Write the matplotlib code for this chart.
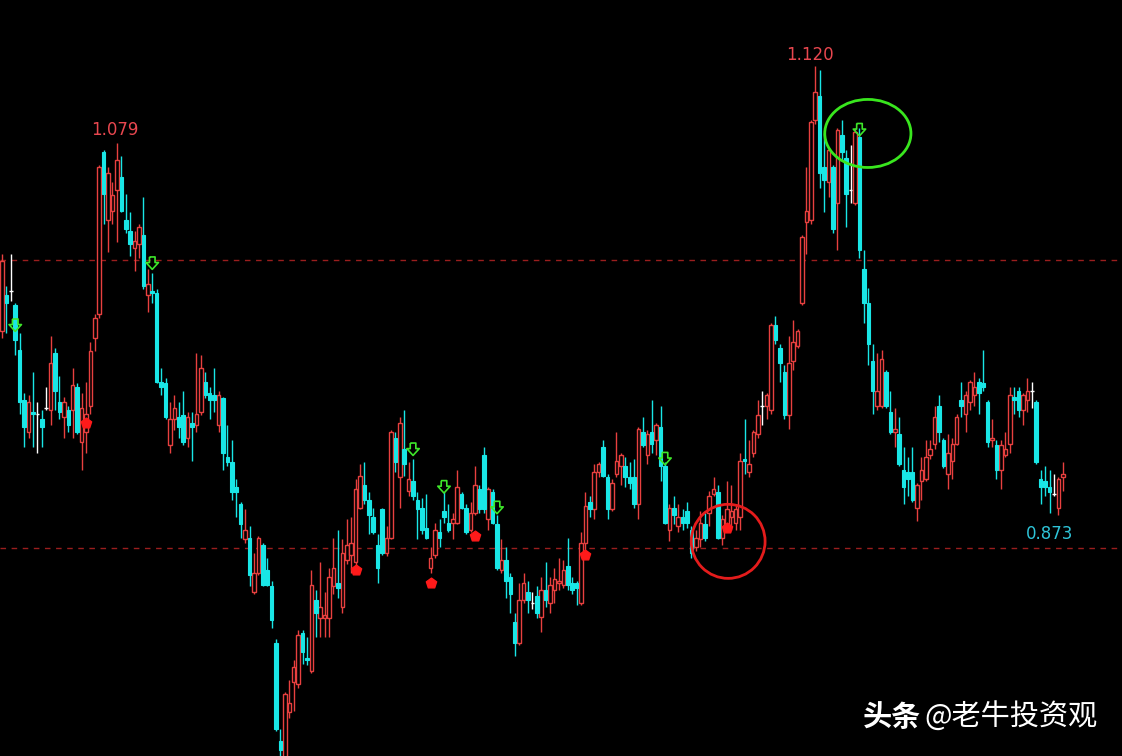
import numpy as np
import matplotlib
matplotlib.use('Agg')
from matplotlib import pyplot as plt
from matplotlib.patches import Ellipse
from matplotlib.path import Path

# candle data (one entry per bar, left to right)
opens = [
    .979, .998, 1.000, .993, .969, .942, .925, .936, .935, .932,
    .938, .937, .967, .941, .933, .937, .937, .949, .920, .925,
    .939, .975, .988, 1.074, 1.038, 1.043, 1.054, 1.061, 1.038, 1.032,
    1.023, 1.025, 1.030, .998, 1.000, .999, .952, .951, .918, .932,
    .933, .934, .922, .930, .929, .936, .952, .946, .945, .929,
    .943, .912, .909, .896, .887, .868, .869, .840, .850, .865,
    .852, .843, .813, .761, .748, .776, .792, .791, .818, .805,
    .798, .836, .826, .826, .826, .843, .845, .832, .857, .860,
    .856, .885, .897, .889, .880, .865, .884, .861, .869, .922,
    .901, .916, .894, .899, .889, .885, .874, .853, .860, .872,
    .883, .877, .877, .877, .892, .885, .873, .882, .895, .913,
    .879, .893, .876, .852, .857, .848, .824, .813, .836, .840,
    .834, .838, .827, .841, .834, .841, .845, .844, .854, .845,
    .845, .834, .866, .888, .884, .904, .917, .901, .884, .903,
    .907, .907, .901, .901, .887, .925, .913, .925, .921, .928,
    .907, .873, .885, .875, .880, .883, .873, .864, .868, .876,
    .882, .892, .893, .869, .875, .880, .877, .880, .911, .904,
    .914, .924, .939, .939, .937, .982, .970, .957, .934, .963,
    .971, .994, 1.037, 1.038, 1.091, 1.104, 1.066, 1.058, 1.066, 1.047,
    1.083, 1.071, 1.054, 1.047, 1.082, 1.012, .994, .963, .939, .939,
    .957, .936, .925, .924, .905, .904, .904, .885, .899, .900,
    .913, .919, .939, .921, .903, .910, .919, .942, .935, .941,
    .945, .952, .951, .941, .921, .918, .905, .913, .919, .944,
    .947, .937, .942, .947, .941, .900, .899, .896, .892, .885,
    .901]
highs = [
    1.020, 1.003, 1.020, .994, .978, .946, .945, .957, .941, .937,
    .949, .976, .970, .955, .944, .939, .959, .951, .946, .952,
    .973, .988, 1.067, 1.075, 1.066, 1.058, 1.079, 1.072, 1.052, 1.042,
    1.032, 1.036, 1.050, 1.012, 1.010, 1.001, .959, .954, .941, .945,
    .941, .947, .936, .936, .967, .966, .957, .949, .959, .947,
    .944, .929, .921, .900, .888, .884, .875, .861, .870, .866,
    .858, .846, .815, .767, .787, .793, .804, .820, .820, .816,
    .852, .841, .856, .840, .853, .869, .873, .868, .879, .880,
    .900, .908, .909, .893, .885, .871, .885, .875, .926, .925,
    .933, .937, .909, .911, .893, .890, .892, .864, .877, .879,
    .893, .887, .882, .905, .893, .887, .888, .907, .897, .917,
    .896, .895, .881, .868, .864, .850, .829, .845, .850, .846,
    .840, .843, .848, .856, .848, .853, .858, .857, .869, .848,
    .846, .872, .893, .891, .908, .909, .921, .903, .900, .925,
    .914, .912, .909, .911, .928, .933, .926, .942, .930, .939,
    .909, .887, .891, .887, .884, .888, .875, .873, .883, .882,
    .894, .901, .897, .881, .899, .897, .887, .914, .932, .921,
    .926, .942, .947, .946, .983, .987, .972, .961, .976, .985,
    .980, 1.030, 1.066, 1.091, 1.120, 1.118, 1.084, 1.076, 1.067, 1.087,
    1.091, 1.075, 1.078, 1.087, 1.087, 1.022, 1.002, .972, .967, .969,
    .958, .947, .938, .933, .917, .912, .917, .898, .912, .921,
    .921, .939, .945, .922, .924, .922, .935, .952, .947, .953,
    .957, .954, .969, .942, .932, .921, .921, .925, .949, .949,
    .949, .946, .954, .952, .942, .905, .907, .905, .903, .901,
    .909]
lows = [
    .975, .978, .995, .966, .935, .917, .922, .917, .914, .917,
    .937, .929, .937, .932, .922, .925, .922, .924, .905, .914,
    .935, .968, .986, 1.036, 1.021, 1.036, 1.026, 1.042, 1.031, 1.019,
    1.011, 1.018, 1.001, .989, .994, .951, .945, .932, .914, .926,
    .922, .918, .917, .910, .925, .934, .943, .932, .936, .925,
    .905, .907, .889, .880, .869, .866, .843, .839, .849, .843,
    .843, .821, .766, .751, .746, .773, .777, .789, .802, .801,
    .797, .816, .816, .816, .816, .839, .837, .829, .855, .850,
    .853, .884, .887, .871, .871, .845, .860, .859, .868, .904,
    .885, .902, .891, .889, .868, .871, .868, .850, .858, .864,
    .877, .872, .868, .876, .884, .871, .872, .881, .882, .882,
    .873, .876, .852, .850, .837, .829, .806, .812, .834, .829,
    .831, .826, .819, .832, .829, .834, .841, .842, .841, .839,
    .833, .833, .861, .880, .879, .901, .901, .879, .883, .901,
    .897, .896, .895, .885, .879, .917, .908, .914, .913, .899,
    .876, .867, .876, .872, .873, .874, .858, .862, .864, .867,
    .875, .891, .868, .865, .873, .873, .873, .873, .903, .901,
    .912, .922, .929, .932, .935, .972, .952, .932, .927, .958,
    .970, .993, 1.020, 1.036, 1.089, 1.055, 1.042, 1.050, 1.031, 1.022,
    1.070, 1.034, 1.047, 1.046, 1.018, .983, .961, .935, .937, .938,
    .938, .924, .917, .907, .887, .891, .888, .878, .889, .899,
    .911, .916, .920, .906, .895, .900, .918, .933, .925, .937,
    .939, .935, .947, .917, .917, .900, .895, .912, .914, .935,
    .933, .929, .936, .938, .908, .887, .891, .882, .891, .881,
    .894]
closes = [
    1.016, .994, 1.000, .974, .941, .928, .941, .935, .935, .928,
    .938, .962, .947, .936, .941, .929, .950, .925, .938, .935,
    .968, .986, 1.066, 1.052, 1.063, 1.051, 1.070, 1.043, 1.033, 1.025,
    1.027, 1.034, 1.003, 1.004, .999, .952, .949, .933, .932, .938,
    .928, .920, .933, .928, .935, .959, .945, .942, .942, .945,
    .914, .909, .893, .893, .876, .873, .849, .850, .869, .844,
    .844, .825, .767, .756, .786, .781, .800, .817, .808, .804,
    .844, .829, .832, .828, .848, .853, .842, .861, .865, .866,
    .895, .902, .889, .881, .872, .853, .861, .869, .925, .909,
    .930, .908, .900, .891, .884, .873, .869, .858, .873, .869,
    .880, .873, .879, .896, .885, .872, .882, .897, .884, .884,
    .895, .877, .853, .857, .846, .839, .813, .836, .845, .836,
    .834, .829, .841, .836, .844, .847, .846, .852, .844, .841,
    .842, .866, .886, .884, .904, .908, .902, .884, .898, .910,
    .913, .901, .898, .887, .927, .918, .924, .919, .929, .907,
    .877, .885, .881, .880, .877, .877, .861, .869, .877, .869,
    .891, .895, .869, .879, .884, .883, .884, .910, .910, .908,
    .925, .934, .939, .945, .982, .974, .962, .934, .962, .973,
    .979, 1.029, 1.043, 1.090, 1.106, 1.063, 1.059, 1.075, 1.033, 1.086,
    1.074, 1.052, 1.054, 1.085, 1.022, .994, .972, .947, .947, .964,
    .939, .925, .927, .908, .896, .900, .889, .897, .905, .912,
    .916, .933, .925, .907, .914, .919, .933, .939, .945, .952,
    .949, .946, .949, .920, .922, .905, .918, .916, .945, .942,
    .937, .945, .947, .947, .909, .896, .896, .893, .892, .900,
    .903]

# signal arrows (bar index, price)
sell_idx = [3, 34, 93, 100, 112, 150, 194]
sell_px = [.982, 1.015, .916, .896, .885, .911, 1.086]
buy_idx = [19, 80, 97, 107, 132, 164]
buy_px = [.930, .852, .845, .870, .860, .874]

level_lines = [1.0167, 0.8635]
hi_left, hi_right, last_px = '1.079', '1.120', '0.873'

RED = '#e8403f'
CYAN = '#19e6e6'

o = np.array(opens); h = np.array(highs); l = np.array(lows); c = np.array(closes)
x = np.arange(len(o))

fig = plt.figure(figsize=(11.22, 7.56), dpi=100, facecolor='black')
ax = fig.add_axes([0, 0, 1, 1])
ax.set_facecolor('black')
ax.set_xlim(-0.45, 253.4)
ax.set_ylim(0.7528, 1.155)
ax.axis('off')

for y in level_lines:
    ax.axhline(y, color='#9a1e1e', lw=1, linestyle=(0, (4, 4)), zorder=1)

up = c > o
dn = c < o
dj = c == o
wick_col = np.where(up, RED, np.where(dn, CYAN, 'white'))
ax.vlines(x, l, h, colors=list(wick_col), lw=1, zorder=2)

w = 0.8
ax.bar(x[up], (c - o)[up], bottom=o[up], width=w, facecolor='black',
       edgecolor=RED, linewidth=1, zorder=3)
ax.bar(x[dn], (c - o)[dn], bottom=o[dn], width=w, color=CYAN,
       edgecolor=CYAN, linewidth=0.8, zorder=3)
ax.hlines(o[dj], x[dj] - w / 2, x[dj] + w / 2, colors='white', lw=1, zorder=3)

# markers
arrow_dn = Path([(-0.45, 1), (0.45, 1), (0.45, 0.1), (1, 0.1), (0, -1),
                 (-1, 0.1), (-0.45, 0.1), (-0.45, 1)])
ax.scatter(sell_idx, sell_px, marker=arrow_dn, s=80, facecolors='none',
           edgecolors='#3ee62a', linewidths=1.2, zorder=5)
ax.scatter(buy_idx, buy_px, marker='p', s=60, color='#ff1a1a', zorder=5)

ax.add_patch(Ellipse((195.9, 1.084), 19.5, 0.0362, fill=False,
                     edgecolor='#39e61e', lw=2, zorder=6))
ax.add_patch(Ellipse((164.3, 0.867), 16.7, 0.0394, fill=False,
                     edgecolor='#e41c1c', lw=2, zorder=6))

ax.text(25.6, 1.086, hi_left, color='#e8474f', fontsize=12, ha='center', va='center')
ax.text(182.8, 1.126, hi_right, color='#e8474f', fontsize=12, ha='center', va='center')
ax.text(237.1, 0.871, last_px, color='#2ec4d8', fontsize=12, ha='center', va='center')

cjk = ['Noto Sans CJK SC', 'DejaVu Sans']
fig.text(863 / 1122, 1 - 717 / 756, '头条', color='white', fontsize=21,
         fontweight='bold', family=cjk, ha='left', va='center')
fig.text(1098 / 1122, 1 - 717 / 756, '@老牛投资观', color='white', fontsize=21,
         family=cjk, ha='right', va='center')

fig.savefig('out.png', dpi=100, facecolor='black')
